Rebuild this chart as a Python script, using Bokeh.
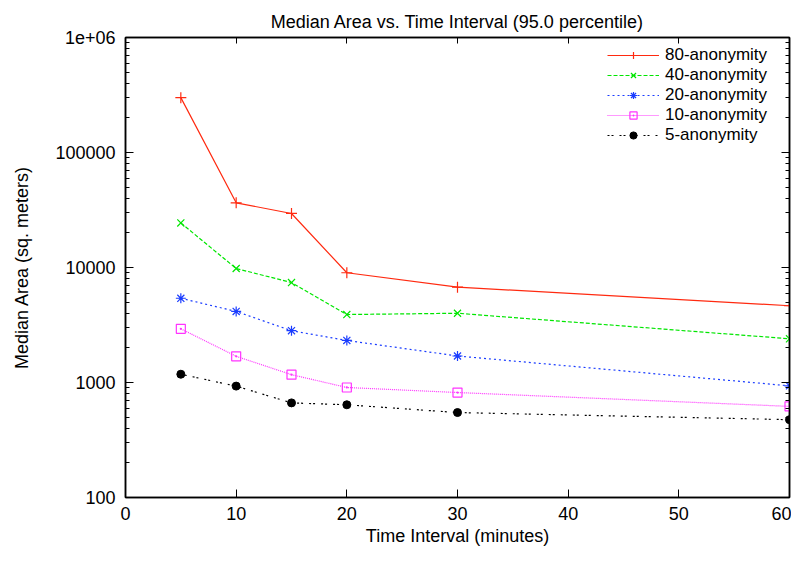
from bokeh.plotting import figure
from bokeh.models import (FixedTicker, LinearAxis, LogAxis, Legend, LegendItem,
                          Range1d, CustomJSTickFormatter)
from bokeh.embed import file_html
from bokeh.resources import INLINE

# ---- data ----
minutes = [5, 10, 15, 20, 30, 60]
anon80 = [300000, 36500, 29500, 9000, 6750, 4650]
anon40 = [24400, 9800, 7400, 3900, 4000, 2400]
anon20 = [5400, 4150, 2820, 2320, 1700, 935]
anon10 = [2930, 1690, 1170, 905, 818, 620]
anon5 = [1180, 930, 665, 640, 548, 475]

series_names = ["80-anonymity", "40-anonymity", "20-anonymity", "10-anonymity", "5-anonymity"]
x_ticks = [0, 10, 20, 30, 40, 50, 60]
y_ticks = [100, 1000, 10000, 100000, 1000000]
y_tick_labels = ["100", "1000", "10000", "100000", "1e+06"]
y_minor = [m * d for d in (100, 1000, 10000, 100000) for m in range(2, 10)]

FONT = "Liberation Sans"

p = figure(width=791, height=548, output_backend="svg", toolbar_location=None,
           y_axis_type="log", x_range=Range1d(0, 60), y_range=Range1d(100, 1000000),
           min_border_left=125, min_border_right=2, min_border_top=37, min_border_bottom=46,
           title="Median Area vs. Time Interval (95.0 percentile)")

p.title.align = "center"
p.title.text_font = FONT
p.title.text_font_size = "18px"
p.title.text_font_style = "normal"
p.title.text_color = "black"
p.title.standoff = 12
p.title.offset = 0

p.grid.visible = False
p.outline_line_color = "black"
p.outline_line_width = 1.5
p.background_fill_color = "white"
p.border_fill_color = "white"


def style_axis(ax):
    ax.axis_line_color = "black"
    ax.axis_line_width = 1.5
    ax.major_tick_in = 8
    ax.major_tick_out = 0
    ax.minor_tick_in = 4
    ax.minor_tick_out = 0
    ax.major_tick_line_color = "black"
    ax.minor_tick_line_color = "black"
    ax.major_label_text_font = FONT
    ax.major_label_text_font_size = "18px"
    ax.major_label_text_color = "black"
    ax.axis_label_text_font = FONT
    ax.axis_label_text_font_size = "18px"
    ax.axis_label_text_font_style = "normal"
    ax.axis_label_text_color = "black"


xt = FixedTicker(ticks=x_ticks, minor_ticks=[])
yt = FixedTicker(ticks=y_ticks, minor_ticks=y_minor)
overrides = {t: lab for t, lab in zip(y_ticks, y_tick_labels)}

xa = p.xaxis[0]
style_axis(xa)
xa.ticker = xt
xa.axis_label = "Time Interval (minutes)"
xa.major_label_standoff = 9
xa.axis_label_standoff = 3

ya = p.yaxis[0]
style_axis(ya)
ya.ticker = yt
ya.major_label_overrides = overrides
ya.axis_label = "Median Area (sq. meters)"
ya.major_label_standoff = 10
ya.axis_label_standoff = 20

blank = CustomJSTickFormatter(code="return '';")

top = LinearAxis(ticker=xt, formatter=blank)
style_axis(top)
top.major_label_standoff = 0
top.major_tick_in = 6
p.add_layout(top, "above")

right = LogAxis(ticker=yt, formatter=blank)
style_axis(right)
right.major_label_standoff = 0
p.add_layout(right, "right")

styles = [
    (anon80, "#ff2a10", "solid", "cross", 11),
    (anon40, "#00e600", "4 2", "x", 10),
    (anon20, "#1a3cff", "2 3", "asterisk", 10),
    (anon10, "#ff33ff", "1 1", "square_dot", 9),
    (anon5, "black", "2 2 2 6", "circle", 8),
]

items = []
for (vals, color, dash, marker, size), name in zip(styles, series_names):
    ln = p.line(minutes, vals, line_color=color, line_width=1.2, line_dash=dash)
    if marker == "circle":
        sc = p.scatter(minutes, vals, marker=marker, size=size, fill_color=color,
                       line_color=color)
    else:
        sc = p.scatter(minutes, vals, marker=marker, size=size, fill_alpha=0,
                       line_color=color, line_width=1.2)
    items.append(LegendItem(label=name, renderers=[ln, sc]))

legend = Legend(items=items, location="top_right")
legend.label_text_font = FONT
legend.label_text_font_size = "17px"
legend.label_text_color = "black"
legend.label_height = 18
legend.glyph_height = 18
legend.glyph_width = 52
legend.label_width = 116
legend.spacing = 0
legend.padding = 4
legend.margin = 4
legend.border_line_alpha = 0
legend.background_fill_alpha = 0
legend.label_standoff = 6
p.add_layout(legend)

open("out.html", "w").write(file_html(p, INLINE))
